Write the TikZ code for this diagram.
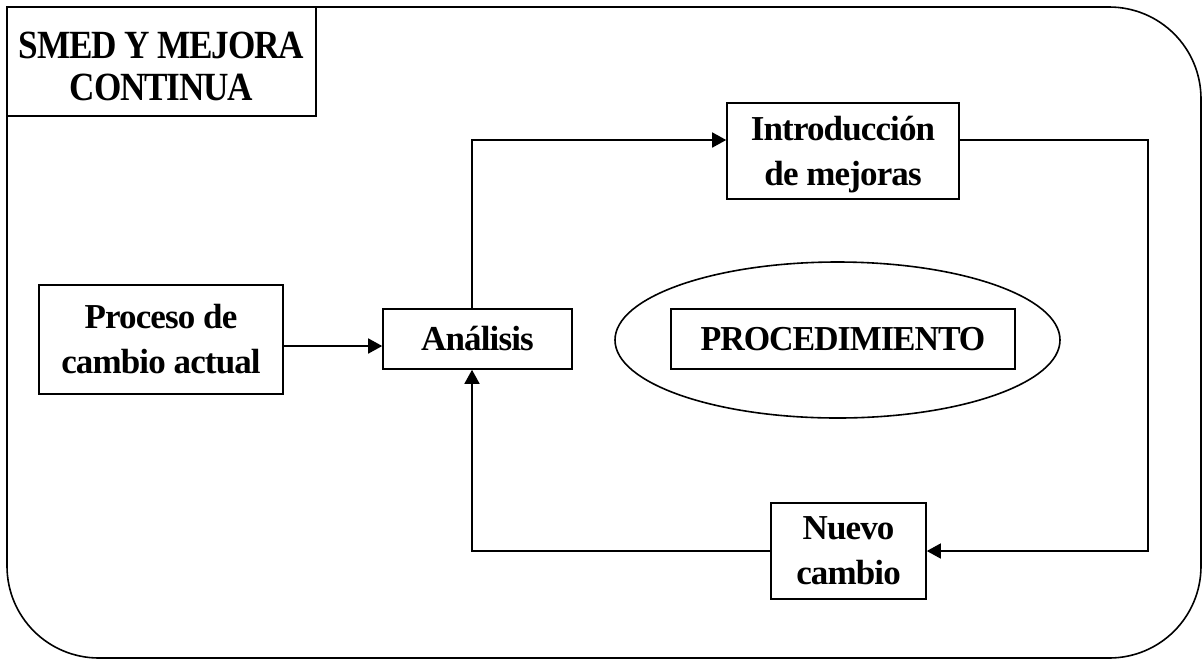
\documentclass[tikz,border=0pt]{standalone}
\usepackage{fontspec}
\setmainfont{Liberation Serif}
\newfontfamily\bodyf[LetterSpace=-2.5]{Liberation Serif}
\newfontfamily\procf[FakeStretch=0.97,LetterSpace=-3]{Liberation Serif}
\newfontfamily\titlef[FakeStretch=0.88,LetterSpace=-3]{Liberation Serif}
\usetikzlibrary{arrows.meta,shapes.geometric}
\begin{document}
\begin{tikzpicture}[x=0.5pt,y=-0.5pt,
  line width=0.8pt,
  box/.style={draw,line width=0.8pt,align=center,inner sep=0pt,fill=white,
    font=\bodyf\bfseries\fontsize{17.5}{22.5}\selectfont},
  arr/.style={-{Triangle[length=7pt,width=7.5pt]}}]
\useasboundingbox (0,0) rectangle (1204,660);
% outer frame
\draw (7,7) -- (1109,7) .. controls (1160,7) and (1201,48) .. (1201,99)
  -- (1201,566) .. controls (1201,617) and (1160,658) .. (1109,658)
  -- (99,658) .. controls (48,658) and (7,617) .. (7,566) -- cycle;
% title
\node[box,minimum width=154.5pt,minimum height=54.5pt,
  font=\titlef\bfseries\fontsize{20}{21}\selectfont] (title) at (161.5,61.5) {\rule{0pt}{18.5pt}SMED Y MEJORA\\CONTINUA};
% nodes
\node[box,minimum width=122pt,minimum height=54.5pt] (proceso) at (161,339.5) {Proceso de\\cambio actual};
\node[box,minimum width=94.5pt,minimum height=30pt] (analisis) at (477.5,339) {Análisis};
\node[box,minimum width=116pt,minimum height=48pt] (intro) at (843,151) {\rule{0pt}{16pt}Introducción\\de mejoras};
\node[box,minimum width=77.5pt,minimum height=48pt] (nuevo) at (848.5,551) {Nuevo\\cambio};
\node[draw,ellipse,inner sep=0pt,minimum width=222.5pt,minimum height=78pt] (ell) at (837.5,340) {};
\node[box,minimum width=172pt,minimum height=30pt,
  font=\procf\bfseries\fontsize{17.5}{22}\selectfont] (proc) at (843,339) {PROCEDIMIENTO};
% helper coordinates
\coordinate (row) at (0,346);
\coordinate (topcol) at (472,140);
\coordinate (rc) at (1148,140);
% connectors
\draw[arr] (proceso.east |- row) -- (analisis.west |- row);
\draw[arr] (analisis.north -| topcol) |- (intro.west |- topcol);
\draw[arr] (intro.east |- rc) -- (rc) |- (nuevo.east);
\draw[arr] (nuevo.west) -| (analisis.south -| topcol);
\end{tikzpicture}
\end{document}
